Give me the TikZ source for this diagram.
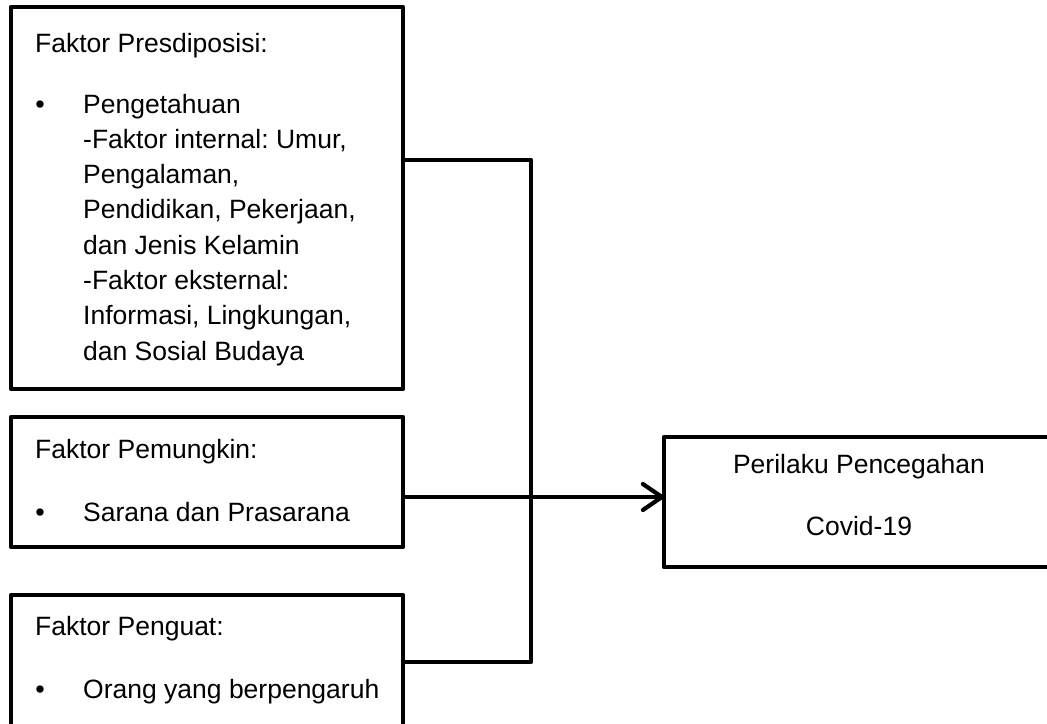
\documentclass[tikz,border=0pt]{standalone}
\usepackage{fontspec}
\setmainfont{Liberation Sans}
\usetikzlibrary{arrows.meta}
\frenchspacing
\begin{document}
\begin{tikzpicture}[x=1pt,y=1pt,
  box/.style={draw, line width=4.2pt, line join=round, inner sep=0pt, outer sep=0pt, anchor=north west},
  txt/.style={anchor=base west, inner sep=0pt, font=\fontsize{26.5}{31}\selectfont},
  ctxt/.style={anchor=base, inner sep=0pt, font=\fontsize{26.5}{31}\selectfont},
  bul/.style={anchor=base, inner sep=0pt, font=\fontsize{27}{31}\selectfont},
  conn/.style={line width=4.2pt, line join=round}]
\useasboundingbox (0,0) rectangle (1047,-723);
% boxes
\node[box, minimum width=392pt, minimum height=382pt] (b1) at (11,-7) {};
\node[box, minimum width=392pt, minimum height=130pt] (b2) at (11,-417) {};
\node[box, minimum width=392pt, minimum height=145pt] (b3) at (11,-595) {};
\node[box, minimum width=390pt, minimum height=130pt] (rb) at (664,-437) {};
% box 1 text
\node[txt] (t1) at (35,-52) {Faktor Presdiposisi:};
\node[bul] (u1) at (40,-113) {•};
\foreach \s [count=\i from 0] in {Pengetahuan,-Faktor internal: Umur{,},Pengalaman{,},Pendidikan{,} Pekerjaan{,},dan Jenis Kelamin,-Faktor eksternal:,Informasi{,} Lingkungan{,},dan Sosial Budaya}
  \node[txt] (t1l\i) at (83,-113-35.3*\i) {\s};
% box 2 text
\node[txt] (t2) at (35,-458) {Faktor Pemungkin:};
\node[bul] (u2) at (40,-521) {•};
\node[txt] (t2l) at (83,-521) {Sarana dan Prasarana};
% box 3 text
\node[txt] (t3) at (35,-635) {Faktor Penguat:};
\node[bul] (u3) at (40,-698) {•};
\node[txt] (t3l) at (83,-698) {Orang yang berpengaruh};
% right box text
\node[ctxt] (r1) at (859,-473) {Perilaku Pencegahan};
\node[ctxt] (r2) at (859,-535) {Covid-19};
% connectors
\coordinate (j1) at (531,-160);
\coordinate (j3) at (531,-662);
\coordinate (jm) at (531,-497);
\draw[conn] (b1.east |- j1) -- (j1) -- (j3) -- (b3.east |- j3);
\draw[conn, -{Straight Barb[length=19pt, width=26pt, line cap=round, line join=round]}] (b2.east |- jm) -- (rb.west |- jm);
\end{tikzpicture}
\end{document}
